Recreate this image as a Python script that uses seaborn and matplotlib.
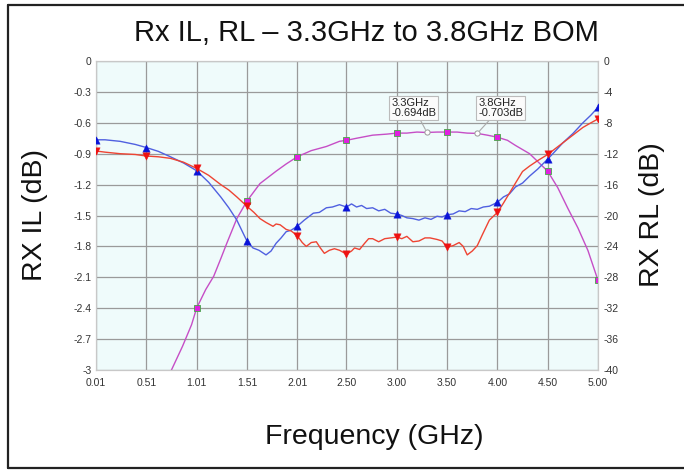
import numpy as np
import matplotlib
matplotlib.use("Agg")
import matplotlib.pyplot as plt
import seaborn as sns

sns.set_theme(style="white")
plt.rcParams["font.family"] = ["Liberation Sans", "DejaVu Sans"]

# Insertion loss (left axis, dB)
il_freq = [0.70, 0.76, 0.87, 0.96, 1.01, 1.10, 1.18, 1.25, 1.31, 1.41, 1.51, 1.64,
           1.80, 1.90, 2.01, 2.15, 2.30, 2.43, 2.50, 2.60, 2.76, 2.90, 3.00, 3.10,
           3.20, 3.30, 3.40, 3.50, 3.60, 3.70, 3.80, 3.90, 4.00, 4.10, 4.18, 4.32,
           4.50, 4.60, 4.70, 4.80, 4.90, 5.00]
il_db = [-3.20, -3.00, -2.77, -2.56, -2.40, -2.22, -2.09, -1.92, -1.77, -1.53, -1.36, -1.19,
         -1.07, -1.00, -0.93, -0.87, -0.83, -0.78, -0.77, -0.75, -0.72, -0.71, -0.70, -0.70,
         -0.69, -0.694, -0.69, -0.69, -0.69, -0.70, -0.703, -0.72, -0.74, -0.77, -0.82, -0.90,
         -1.07, -1.23, -1.43, -1.62, -1.84, -2.13]

# Return loss, trace A (right axis, dB)
rla_freq = [0.01, 0.10, 0.25, 0.40, 0.51, 0.63, 0.75, 0.88, 1.01, 1.13, 1.25, 1.33,
            1.41, 1.51, 1.57, 1.63, 1.70, 1.75, 1.80, 1.85, 1.90, 1.95, 2.01, 2.08,
            2.17, 2.23, 2.30, 2.36, 2.43, 2.50, 2.55, 2.60, 2.65, 2.70, 2.76, 2.82,
            2.88, 2.94, 3.00, 3.05, 3.10, 3.16, 3.22, 3.28, 3.34, 3.40, 3.45, 3.50,
            3.56, 3.62, 3.68, 3.74, 3.80, 3.86, 3.92, 4.00, 4.06, 4.12, 4.18, 4.25,
            4.32, 4.40, 4.50, 4.58, 4.65, 4.75, 4.85, 4.93, 5.00]
rla_db = [-10.2, -10.2, -10.4, -10.8, -11.2, -11.7, -12.4, -13.2, -14.2, -15.7, -17.6, -19.0,
          -20.6, -23.3, -24.2, -24.5, -25.1, -24.6, -23.6, -22.9, -22.1, -21.9, -21.4, -20.6,
          -19.7, -19.6, -19.0, -18.9, -18.6, -18.9, -18.5, -18.9, -18.7, -19.1, -19.0, -19.4,
          -19.2, -19.7, -19.8, -20.0, -20.3, -20.4, -20.6, -20.3, -20.5, -20.1, -20.2, -19.9,
          -19.8, -19.4, -19.5, -19.1, -19.2, -18.9, -18.8, -18.3, -17.6, -17.2, -16.3, -15.8,
          -14.9, -14.0, -12.7, -11.6, -10.6, -9.4, -8.0, -7.0, -6.0]

# Return loss, trace B (right axis, dB)
rlb_freq = [0.01, 0.10, 0.25, 0.40, 0.51, 0.63, 0.75, 0.88, 1.01, 1.13, 1.25, 1.33,
            1.41, 1.51, 1.58, 1.64, 1.70, 1.77, 1.80, 1.84, 1.90, 1.95, 2.01, 2.06,
            2.10, 2.15, 2.20, 2.24, 2.28, 2.33, 2.38, 2.43, 2.50, 2.55, 2.58, 2.63,
            2.68, 2.72, 2.76, 2.82, 2.88, 2.94, 3.00, 3.05, 3.10, 3.16, 3.22, 3.28,
            3.33, 3.40, 3.45, 3.50, 3.56, 3.62, 3.66, 3.70, 3.75, 3.80, 3.85, 3.92,
            4.00, 4.06, 4.12, 4.18, 4.25, 4.32, 4.40, 4.50, 4.58, 4.65, 4.75, 4.85,
            4.93, 5.00]
rlb_db = [-11.65, -11.8, -12.0, -12.1, -12.3, -12.4, -12.6, -13.1, -13.9, -14.8, -16.0, -16.7,
          -17.6, -18.8, -19.6, -20.4, -20.9, -21.4, -21.1, -21.2, -21.8, -22.0, -22.6, -23.5,
          -24.0, -23.5, -23.4, -24.2, -24.9, -24.5, -24.3, -24.5, -25.0, -24.6, -24.2, -24.4,
          -23.6, -23.0, -23.0, -23.4, -23.0, -22.9, -22.8, -23.0, -22.7, -23.4, -23.3, -22.9,
          -22.9, -23.1, -23.3, -24.1, -23.9, -23.5, -24.0, -25.1, -24.6, -23.9, -22.5, -20.6,
          -19.6, -18.4, -17.1, -15.8, -14.3, -13.6, -12.9, -12.1, -11.3, -10.6, -9.6, -8.6,
          -8.0, -7.5]

# Trace markers and readouts
marker_freqs = [0.01, 0.51, 1.01, 1.51, 2.01, 2.50, 3.00, 3.50, 4.00, 4.50, 5.00]
readout_freq = [3.3, 3.8]
readout_db = [-0.694, -0.703]

x_ticks = [0.01, 0.51, 1.01, 1.51, 2.01, 2.50, 3.00, 3.50, 4.00, 4.50, 5.00]
x_tick_labels = ["0.01", "0.51", "1.01", "1.51", "2.01", "2.50", "3.00", "3.50", "4.00", "4.50", "5.00"]
il_ticks = [0, -0.3, -0.6, -0.9, -1.2, -1.5, -1.8, -2.1, -2.4, -2.7, -3]
il_tick_labels = ["0", "-0.3", "-0.6", "-0.9", "-1.2", "-1.5", "-1.8", "-2.1", "-2.4", "-2.7", "-3"]
rl_ticks = [0, -4, -8, -12, -16, -20, -24, -28, -32, -36, -40]
rl_tick_labels = ["0", "-4", "-8", "-12", "-16", "-20", "-24", "-28", "-32", "-36", "-40"]

W, H = 684, 470
fig = plt.figure(figsize=(W / 100, H / 100), dpi=100)
fig.patch.set_facecolor("white")

L, R, T, B = 96, 598, 61, 370
ax = fig.add_axes([L / W, 1 - B / H, (R - L) / W, (B - T) / H])
ax.set_facecolor("#effbfb")
ax2 = ax.twinx()
ax2.set_facecolor("none")

def pick(freq, vals, keys):
    f = np.asarray(freq)
    v = np.asarray(vals)
    m = np.isin(np.round(f, 2), np.round(keys, 2))
    return f[m], v[m]

# Insertion loss on the left axis
sns.lineplot(x=il_freq, y=il_db, ax=ax, color="#c64ec6", lw=1.0)
mx, my = pick(il_freq, il_db, marker_freqs)
sns.scatterplot(x=mx, y=my, ax=ax, marker="s", s=19, color="#e020e0",
                edgecolor="#44aa44", linewidth=0.6, zorder=5)
sns.scatterplot(x=readout_freq, y=readout_db, ax=ax, marker="o", s=14,
                facecolor="white", edgecolor="#999999", linewidth=0.7, zorder=6)

# Return loss on the right axis
sns.lineplot(x=rla_freq, y=rla_db, ax=ax2, color="#5060e0", lw=1.0)
sns.lineplot(x=rlb_freq, y=rlb_db, ax=ax2, color="#ee4433", lw=1.0)
ax_, ay_ = pick(rla_freq, rla_db, marker_freqs)
sns.scatterplot(x=ax_, y=ay_, ax=ax2, marker="^", s=28, color="#0a14d8",
                edgecolor="#0a14d8", linewidth=0.3, zorder=5)
bx_, by_ = pick(rlb_freq, rlb_db, marker_freqs)
sns.scatterplot(x=bx_, y=by_, ax=ax2, marker="v", s=28, color="#ee1111",
                edgecolor="#ee1111", linewidth=0.3, zorder=5)

# Axes, ticks, grid
ax.set_xlim(0.01, 5.00)
ax.set_ylim(-3, 0)
ax2.set_ylim(-40, 0)
ax.set_xticks(x_ticks)
ax.set_xticklabels(x_tick_labels)
ax.set_yticks(il_ticks)
ax.set_yticklabels(il_tick_labels)
ax2.set_yticks(rl_ticks)
ax2.set_yticklabels(rl_tick_labels)
ax.grid(True, color="#9a9a9a", lw=0.9)
ax.set_axisbelow(True)
for a in (ax, ax2):
    a.tick_params(length=0, labelsize=7.5, labelcolor="#333333")
    for s in a.spines.values():
        s.set_color("#c8c8c8")
        s.set_linewidth(0.8)
ax.tick_params(axis="x", pad=6)
ax.tick_params(axis="y", pad=3)
ax2.tick_params(axis="y", pad=4)
ax.set_xlabel("")
ax.set_ylabel("")
ax2.set_ylabel("")

# Readout boxes
for f, v, tx in zip(readout_freq, readout_db, [2.945, 3.81]):
    ax.annotate(f"{f}GHz\n{v:.3f}dB", xy=(f, v), xytext=(tx, -0.55),
                textcoords="data", ha="left", va="bottom", fontsize=8,
                color="#222222", linespacing=1.0,
                bbox=dict(boxstyle="square,pad=0.18", fc="#fbfbfb", ec="#bbbbbb", lw=0.8),
                arrowprops=dict(arrowstyle="-", color="#aaaaaa", lw=0.8,
                                shrinkA=0, shrinkB=2.5),
                zorder=7)

# Titles and labels
fig.text(366 / W, 1 - 33 / H, "Rx IL, RL \u2013 3.3GHz to 3.8GHz BOM",
         ha="center", va="center", fontsize=21, color="#111111")
fig.text(35 / W, 1 - 215 / H, "RX IL (dB)", rotation=90, ha="center",
         va="center", fontsize=20.5, color="#111111")
fig.text(652 / W, 1 - 215 / H, "RX RL (dB)", rotation=90, ha="center",
         va="center", fontsize=20.5, color="#111111")
fig.text(374 / W, 1 - 437 / H, "Frequency (GHz)", ha="center", va="center",
         fontsize=20.5, color="#111111")

# Outer frame
fx0, fy0, fy1 = 8 / W, 1 - 5 / H, 1 - 468 / H
for xs, ys in [([fx0, 1.0], [fy0, fy0]), ([fx0, 1.0], [fy1, fy1]), ([fx0, fx0], [fy0, fy1])]:
    fig.add_artist(plt.Line2D(xs, ys, transform=fig.transFigure, color="#222222", lw=1.6))

fig.savefig("out.png", dpi=100)
